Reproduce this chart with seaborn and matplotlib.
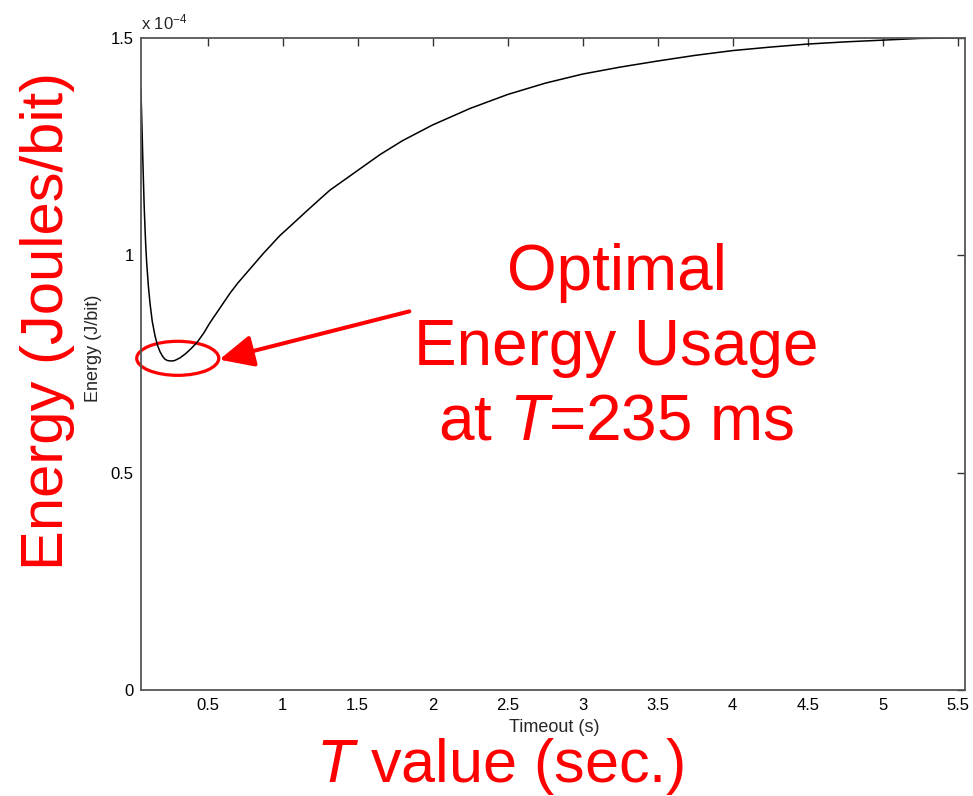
import matplotlib
matplotlib.use("Agg")
import matplotlib.pyplot as plt
from matplotlib.patches import Ellipse
import seaborn as sns
import pandas as pd

# ---- data (energy in units of 1e-4 J/bit) ----
timeout_s = [0.054, 0.058, 0.062, 0.066, 0.071, 0.076, 0.082, 0.087, 0.093,
             0.104, 0.115, 0.13, 0.149, 0.165, 0.182, 0.2, 0.215, 0.23,
             0.249, 0.265, 0.28, 0.315, 0.35, 0.382, 0.43, 0.475, 0.515,
             0.58, 0.649, 0.7, 0.76, 0.87, 0.98, 1.05, 1.16, 1.25, 1.315,
             1.45, 1.56, 1.65, 1.8, 2.0, 2.25, 2.5, 2.75, 3.0, 3.25, 3.5,
             3.75, 4.0, 4.25, 4.5, 4.75, 5.0, 5.25, 5.52]
energy_1e4 = [1.382, 1.34, 1.29, 1.235, 1.175, 1.115, 1.06, 1.02, 0.983,
              0.93, 0.89, 0.848, 0.814, 0.793, 0.778, 0.767, 0.761, 0.758,
              0.757, 0.757, 0.758, 0.764, 0.773, 0.783, 0.8, 0.822, 0.845,
              0.878, 0.913, 0.936, 0.96, 1.004, 1.045, 1.067, 1.102, 1.13,
              1.15, 1.183, 1.21, 1.232, 1.264, 1.300, 1.338, 1.370, 1.396,
              1.417, 1.433, 1.447, 1.46, 1.471, 1.479, 1.486, 1.491, 1.495,
              1.499, 1.500]
x_ticks = [0.5, 1, 1.5, 2, 2.5, 3, 3.5, 4, 4.5, 5, 5.5]
x_tick_labels = ["0.5", "1", "1.5", "2", "2.5", "3", "3.5", "4", "4.5", "5", "5.5"]
y_ticks = [0, 0.5, 1, 1.5]
y_tick_labels = ["0", "0.5", "1", "1.5"]
optimal_T = 0.30
optimal_E = 0.763

df = pd.DataFrame({"Timeout (s)": timeout_s, "Energy": energy_1e4})

sns.set_style("white")
plt.rcParams["font.family"] = ["Liberation Sans", "DejaVu Sans"]
plt.rcParams["mathtext.fontset"] = "custom"
plt.rcParams["mathtext.rm"] = "Liberation Sans"
plt.rcParams["mathtext.it"] = "Liberation Sans:italic"

fig = plt.figure(figsize=(9.73, 7.96), dpi=100)
ax = fig.add_axes([0.1446, 0.1332, 0.8469, 0.8191])

sns.lineplot(data=df, x="Timeout (s)", y="Energy", ax=ax, color="black",
             linewidth=1.1, estimator=None, sort=False)

ax.set_xlim(0.053, 5.547)
ax.set_ylim(0, 1.5)
ax.set_xticks(x_ticks)
ax.set_xticklabels(x_tick_labels)
ax.set_yticks(y_ticks)
ax.set_yticklabels(y_tick_labels)
ax.set_xlabel("")
ax.set_ylabel("")
ax.tick_params(direction="in", length=6, width=1, colors="#333333",
               labelsize=12, labelcolor="black", top=True, right=True)
ax.tick_params(axis="x", pad=6)
ax.tick_params(axis="y", pad=5)
for s in ax.spines.values():
    s.set_visible(True)
    s.set_color("#555555")
    s.set_linewidth(1.3)

# ellipse and arrow
ax.add_patch(Ellipse((optimal_T, optimal_E), 0.547, 0.0783, fill=False,
                     edgecolor="red", linewidth=2.3, clip_on=False))
ax.annotate("", xy=(0.577, 0.760), xytext=(1.844, 0.871),
            arrowprops=dict(arrowstyle="-|>,head_length=1.5,head_width=0.7",
                            color="red", lw=2.9, shrinkA=0, shrinkB=0,
                            mutation_scale=14))

# texts
fig.text(140.7 / 973, 1 - 29 / 796, r"x 10$^{-4}$", fontsize=12,
         ha="left", va="baseline")
fig.text(616.7 / 973, 1 - 440 / 796, "Optimal\nEnergy Usage\nat $T$=235 ms",
         color="red", fontsize=46, ha="center", va="baseline",
         multialignment="center", linespacing=1.32)
fig.text(554 / 973, 1 - 732 / 796, "Timeout (s)", fontsize=13,
         ha="center", va="baseline")
fig.text(500 / 973, 1 - 782 / 796, r"$T$ value (sec.)", color="red",
         fontsize=44, ha="center", va="baseline")
fig.text(93 / 973, 1 - 348 / 796, "Energy (J/bit)", fontsize=13,
         rotation=90, ha="center", va="center")
fig.text(48 / 973, 1 - 321 / 796, "Energy (Joules/bit)", color="red",
         fontsize=43, rotation=90, ha="center", va="center")

fig.savefig("out.png", dpi=100, facecolor="white")
